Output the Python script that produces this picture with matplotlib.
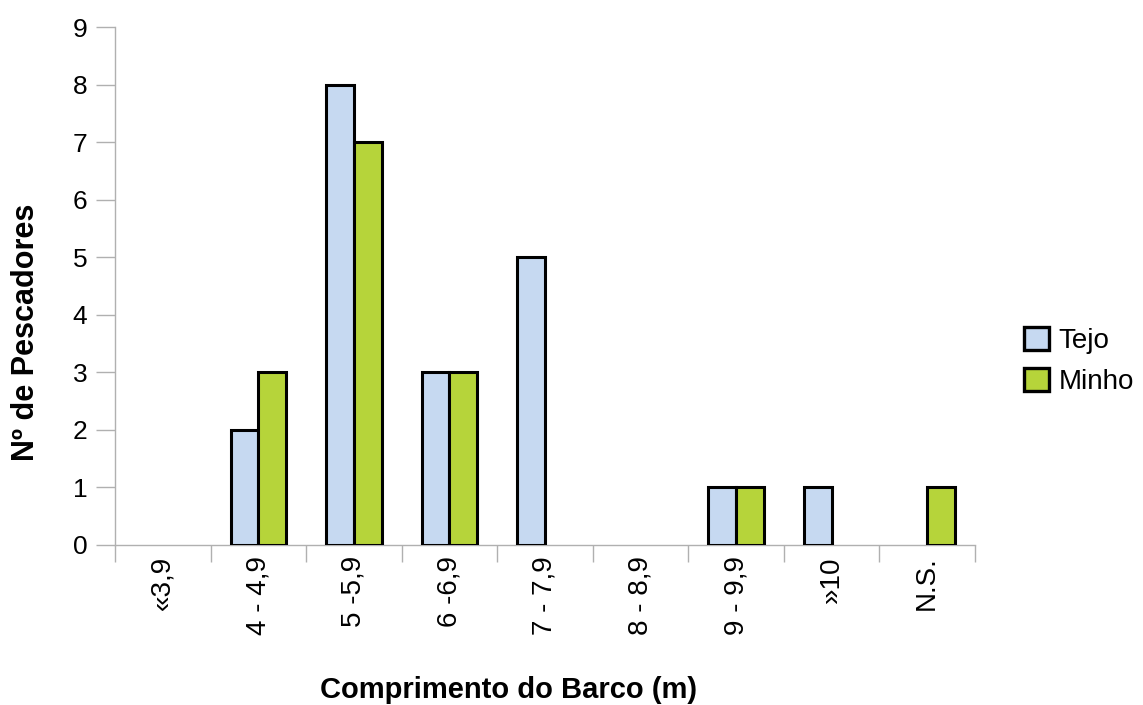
import matplotlib
matplotlib.use("Agg")
import matplotlib.pyplot as plt
from matplotlib.patches import Patch
import numpy as np

plt.rcParams['font.family'] = ['Liberation Sans', 'DejaVu Sans']

categories = ["«3,9", "4 - 4,9", "5 -5,9", "6 -6,9", "7 - 7,9", "8 - 8,9", "9 - 9,9", "»10", "N.S."]
tejo = [0, 2, 8, 3, 5, 0, 1, 1, 0]
minho = [0, 3, 7, 3, 0, 0, 1, 0, 1]

tejo_color = "#c6d9f1"
minho_color = "#b6d43a"
axis_grey = "#b0b0b0"

fig = plt.figure(figsize=(11.43, 7.05), dpi=100)
ax = fig.add_axes([0.1006, 0.227, 0.7524, 0.7347])

x = np.arange(len(categories))
w = 0.29
for i in range(len(categories)):
    if tejo[i] > 0:
        ax.bar(x[i] - w / 2, tejo[i], width=w, color=tejo_color,
               edgecolor="black", linewidth=2.2, zorder=3)
    if minho[i] > 0:
        ax.bar(x[i] + w / 2, minho[i], width=w, color=minho_color,
               edgecolor="black", linewidth=2.2, zorder=3)

ax.set_xlim(-0.5, len(categories) - 0.5)
ax.set_ylim(0, 9)
ax.set_yticks(range(10))

for side in ("top", "right"):
    ax.spines[side].set_visible(False)
for side in ("left", "bottom"):
    ax.spines[side].set_color(axis_grey)
    ax.spines[side].set_linewidth(1.0)

# category boundaries carry the tick marks, the centres carry the labels
ax.set_xticks(np.arange(-0.5, len(categories), 1.0))
ax.set_xticklabels([])
ax.set_xticks(x, minor=True)
ax.set_xticklabels(categories, minor=True, rotation=90, fontsize=20)
ax.tick_params(axis="x", which="major", length=12, color=axis_grey, width=1.0)
ax.tick_params(axis="x", which="minor", length=0, pad=8)
ax.tick_params(axis="y", length=14, color=axis_grey, width=1.0, labelsize=19, pad=6)

ax.set_xlabel("Comprimento do Barco (m)", fontsize=21, fontweight="bold", va="center")
ax.xaxis.set_label_coords(0.458, -0.28)
ax.set_ylabel("Nº de Pescadores", fontsize=22, fontweight="bold", va="center")
ax.yaxis.set_label_coords(-0.104, 0.41)

handles = [Patch(facecolor=tejo_color, edgecolor="black", linewidth=2.4, label="Tejo"),
           Patch(facecolor=minho_color, edgecolor="black", linewidth=2.4, label="Minho")]
fig.legend(handles=handles, loc="center left", bbox_to_anchor=(0.886, 0.488),
           frameon=False, fontsize=20, handlelength=0.9, handleheight=0.9,
           handletextpad=0.35, labelspacing=0.5, borderaxespad=0)

fig.savefig("out.png", dpi=100, facecolor="white")
